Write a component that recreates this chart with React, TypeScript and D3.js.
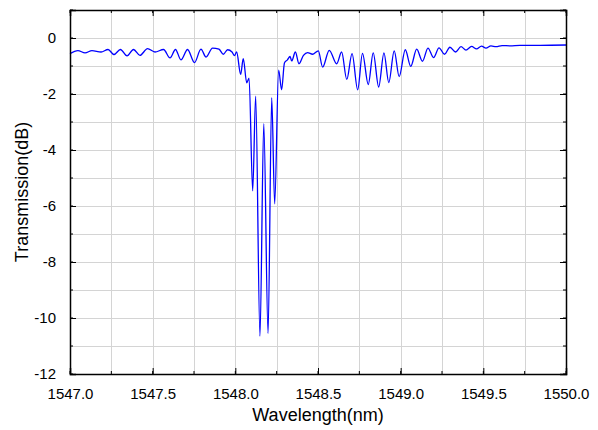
import React, { useEffect, useRef } from "react";
import * as d3 from "d3";

// wavelength (nm), peaks and troughs
const wavelength = [
  1547.0, 1547.048, 1547.091, 1547.133, 1547.188, 1547.23, 1547.266, 1547.305,
  1547.345, 1547.384, 1547.423, 1547.469, 1547.514, 1547.566, 1547.605, 1547.638,
  1547.671, 1547.711, 1547.753, 1547.792, 1547.823, 1547.862, 1547.901, 1547.927,
  1547.953, 1547.98, 1547.995, 1548.008, 1548.032, 1548.048, 1548.069, 1548.083,
  1548.105, 1548.123, 1548.149, 1548.172, 1548.198, 1548.22, 1548.238, 1548.262,
  1548.28, 1548.297, 1548.315, 1548.331, 1548.341, 1548.363, 1548.385, 1548.412,
  1548.437, 1548.467, 1548.502, 1548.528, 1548.568, 1548.613, 1548.643, 1548.674,
  1548.706, 1548.74, 1548.769, 1548.804, 1548.834, 1548.867, 1548.899, 1548.928,
  1548.961, 1548.991, 1549.028, 1549.061, 1549.097, 1549.132, 1549.165, 1549.199,
  1549.232, 1549.265, 1549.298, 1549.332, 1549.365, 1549.395, 1549.429, 1549.459,
  1549.489, 1549.516, 1549.546, 1549.577, 1549.613, 1549.661, 1549.722, 1549.843,
  1550.0,
];

// transmission (dB) at those wavelengths
const transmission = [
  -0.56, -0.45, -0.53, -0.45, -0.5, -0.41, -0.59, -0.41,
  -0.64, -0.41, -0.62, -0.38, -0.5, -0.41, -0.71, -0.41,
  -0.78, -0.41, -0.88, -0.4, -0.68, -0.36, -0.4, -0.58,
  -0.42, -0.5, -0.63, -0.5, -1.3, -0.74, -1.6, -1.43,
  -5.46, -2.08, -10.65, -3.06, -10.55, -2.13, -5.92, -1.15,
  -1.85, -0.89, -0.78, -0.66, -0.82, -0.5, -0.92, -0.62,
  -0.52, -0.58, -0.46, -1.04, -0.44, -0.92, -0.5, -1.48,
  -0.56, -1.85, -0.55, -1.66, -0.53, -1.75, -0.53, -1.59,
  -0.46, -1.38, -0.42, -1.01, -0.4, -0.83, -0.36, -0.7,
  -0.35, -0.58, -0.33, -0.5, -0.31, -0.43, -0.3, -0.39,
  -0.29, -0.36, -0.28, -0.31, -0.27, -0.28, -0.26, -0.26,
  -0.25,
];

const xMajorTicks = [1547.0, 1547.5, 1548.0, 1548.5, 1549.0, 1549.5, 1550.0];
const yMajorTicks = [0, -2, -4, -6, -8, -10, -12];

const TransmissionChart = () => {
  const chartRef = useRef<SVGSVGElement>(null);

  useEffect(() => {
    const svg = d3.select(chartRef.current);
    const width = 598;
    const height = 430;
    const margin = { top: 10, right: 32, bottom: 56, left: 70 };

    svg.selectAll("*").remove();

    const x = d3
      .scaleLinear()
      .domain([1547, 1550])
      .range([margin.left, width - margin.right]);
    const y = d3
      .scaleLinear()
      .domain([-12, 1])
      .range([height - margin.bottom, margin.top]);

    const xMinor = d3.range(1547, 1550.001, 0.25);
    const yMinor = d3.range(-12, 1.001, 1);

    // grid
    const grid = svg.append("g").attr("stroke", "#d4d4d4").attr("stroke-width", 1);
    grid
      .selectAll(".vg")
      .data(xMinor)
      .join("line")
      .attr("x1", (d) => Math.round(x(d)) + 0.5)
      .attr("x2", (d) => Math.round(x(d)) + 0.5)
      .attr("y1", margin.top)
      .attr("y2", height - margin.bottom);
    grid
      .selectAll(".hg")
      .data(yMinor)
      .join("line")
      .attr("x1", margin.left)
      .attr("x2", width - margin.right)
      .attr("y1", (d) => Math.round(y(d)) + 0.5)
      .attr("y2", (d) => Math.round(y(d)) + 0.5);

    // trace
    const points = wavelength.map((w, i) => [w, transmission[i]] as [number, number]);
    const line = d3
      .line<[number, number]>()
      .x((d) => x(d[0]))
      .y((d) => y(d[1]))
      .curve(d3.curveMonotoneX);
    svg
      .append("path")
      .datum(points)
      .attr("fill", "none")
      .attr("stroke", "#0000ff")
      .attr("stroke-width", 1.3)
      .attr("d", line);

    const font = "Arial, 'Liberation Sans', sans-serif";

    // axes, ticks inward
    const bottom = svg
      .append("g")
      .attr("transform", `translate(0, ${height - margin.bottom})`)
      .call(
        d3.axisBottom(x).tickValues(xMajorTicks).tickSize(-6).tickPadding(14)
          .tickFormat((d) => d3.format(".1f")(d as number))
      );
    bottom.selectAll("text").style("font-size", "15px").style("font-family", font).attr("fill", "#000");
    bottom.append("g").selectAll("line").data(xMinor).join("line")
      .attr("x1", (d) => x(d)).attr("x2", (d) => x(d)).attr("y1", 0).attr("y2", -3).attr("stroke", "#000");

    const left = svg
      .append("g")
      .attr("transform", `translate(${margin.left}, 0)`)
      .call(
        d3.axisLeft(y).tickValues(yMajorTicks).tickSize(-6).tickPadding(14)
          .tickFormat((d) => String(d))
      );
    left.selectAll("text").style("font-size", "15px").style("font-family", font).attr("fill", "#000");
    left.append("g").selectAll("line").data(yMinor).join("line")
      .attr("y1", (d) => y(d)).attr("y2", (d) => y(d)).attr("x1", 0).attr("x2", 3).attr("stroke", "#000");

    const right = svg
      .append("g")
      .attr("transform", `translate(${width - margin.right}, 0)`)
      .call(d3.axisRight(y).tickValues(yMajorTicks).tickSize(-6).tickFormat(() => ""));
    right.append("g").selectAll("line").data(yMinor).join("line")
      .attr("y1", (d) => y(d)).attr("y2", (d) => y(d)).attr("x1", 0).attr("x2", -3).attr("stroke", "#000");

    const top = svg
      .append("g")
      .attr("transform", `translate(0, ${margin.top})`)
      .call(d3.axisTop(x).tickValues(xMajorTicks).tickSize(-6).tickFormat(() => ""));
    top.append("g").selectAll("line").data(xMinor).join("line")
      .attr("x1", (d) => x(d)).attr("x2", (d) => x(d)).attr("y1", 0).attr("y2", 3).attr("stroke", "#000");

    [bottom, left, right, top].forEach((g) => {
      g.select(".domain").attr("stroke", "#000").attr("stroke-width", 1.5);
      g.selectAll(".tick line").attr("stroke", "#000");
    });

    // axis titles
    svg
      .append("text")
      .attr("x", (margin.left + width - margin.right) / 2)
      .attr("y", 421)
      .attr("text-anchor", "middle")
      .style("font-family", font)
      .style("font-size", "18px")
      .text("Wavelength(nm)");

    svg
      .append("text")
      .attr("transform", `translate(28, ${(margin.top + height - margin.bottom) / 2}) rotate(-90)`)
      .attr("text-anchor", "middle")
      .style("font-family", font)
      .style("font-size", "18px")
      .text("Transmission(dB)");
  }, []);

  return <svg ref={chartRef} width="598" height="430"></svg>;
};

export default function App() {
  return (
    <div style={{ position: "absolute", left: 0, top: 0 }}>
      <TransmissionChart />
    </div>
  );
}
